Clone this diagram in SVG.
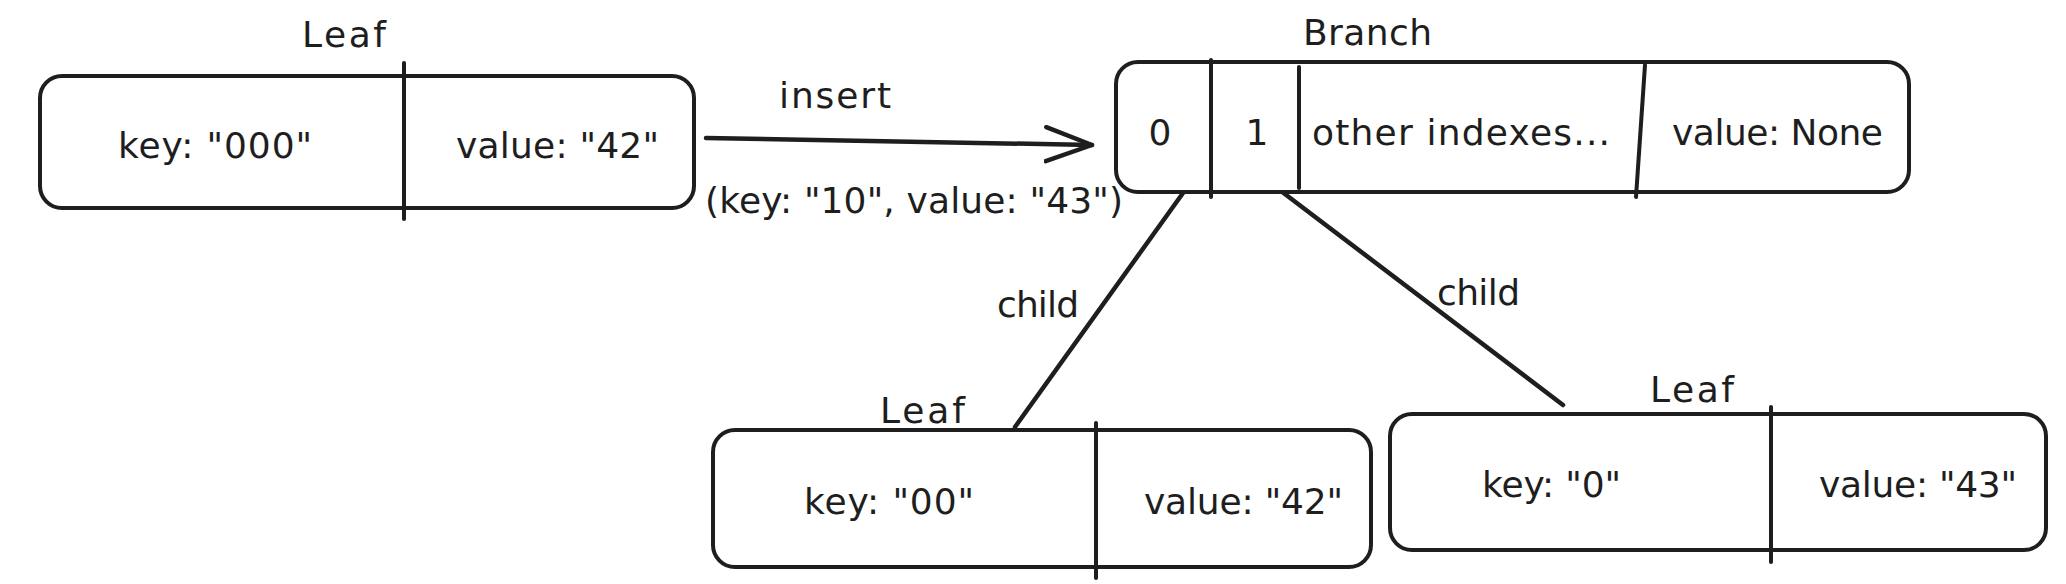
<svg xmlns="http://www.w3.org/2000/svg" width="2066" height="584" viewBox="0 0 2066 584">
<style>
.box{fill:#fff;stroke:#1e1e1e;stroke-width:4;}
.div{stroke:#1e1e1e;stroke-width:4;stroke-linecap:round;fill:none;}
.conn{stroke:#1e1e1e;stroke-width:4.5;stroke-linecap:round;fill:none;}
text{font-family:"DejaVu Sans","Noto Sans",sans-serif;font-size:36px;fill:#1e1e1e;}
</style>
<defs>
<marker id="arrow" markerUnits="userSpaceOnUse" markerWidth="56" markerHeight="44" refX="48" refY="19" orient="auto" viewBox="0 0 56 44">
<path d="M2,2 L48,19 L2,36" fill="none" stroke="#1e1e1e" stroke-width="4.5" stroke-linecap="round" stroke-linejoin="round"/>
</marker>
</defs>
<rect width="2066" height="584" fill="#fff"/>

<g id="connectors">
<path class="conn" d="M706,138 L1092,145" marker-end="url(#arrow)"/>
<path class="conn" d="M1183,193 L1015,427"/>
<path class="conn" d="M1277,188 L1563,405"/>
<text x="779" y="108" textLength="112">insert</text>
<text x="705" y="213" textLength="418">(key: "10", value: "43")</text>
<text x="997" y="317" textLength="82">child</text>
<text x="1437" y="305" textLength="83">child</text>
</g>

<g id="leaf-1">
<text x="302" y="47" textLength="84">Leaf</text>
<rect class="box" x="40" y="76" width="654" height="132" rx="22"/>
<line class="div" x1="404" y1="63" x2="404" y2="219"/>
<text x="118" y="158" textLength="194">key: "000"</text>
<text x="456" y="158" textLength="203">value: "42"</text>
</g>

<g id="branch">
<text x="1303" y="45" textLength="129">Branch</text>
<rect class="box" x="1116" y="62" width="793" height="130" rx="22"/>
<line class="div" x1="1211" y1="60" x2="1211" y2="197"/>
<line class="div" x1="1299" y1="67" x2="1299" y2="188"/>
<line class="div" x1="1645" y1="65" x2="1636" y2="197"/>
<text x="1160" y="145" text-anchor="middle">0</text>
<text x="1257" y="145" text-anchor="middle">1</text>
<text x="1312" y="145" textLength="298">other indexes...</text>
<text x="1672" y="145" textLength="211">value: None</text>
</g>

<g id="leaf-2">
<text x="880" y="423" textLength="85">Leaf</text>
<rect class="box" x="713" y="430" width="658" height="137" rx="22"/>
<line class="div" x1="1096" y1="423" x2="1096" y2="578"/>
<text x="804" y="514" textLength="170">key: "00"</text>
<text x="1144" y="514" textLength="199">value: "42"</text>
</g>

<g id="leaf-3">
<text x="1650" y="402" textLength="84">Leaf</text>
<rect class="box" x="1390" y="414" width="656" height="136" rx="22"/>
<line class="div" x1="1771" y1="407" x2="1771" y2="562"/>
<text x="1482" y="497" textLength="139">key: "0"</text>
<text x="1819" y="497" textLength="198">value: "43"</text>
</g>
</svg>
